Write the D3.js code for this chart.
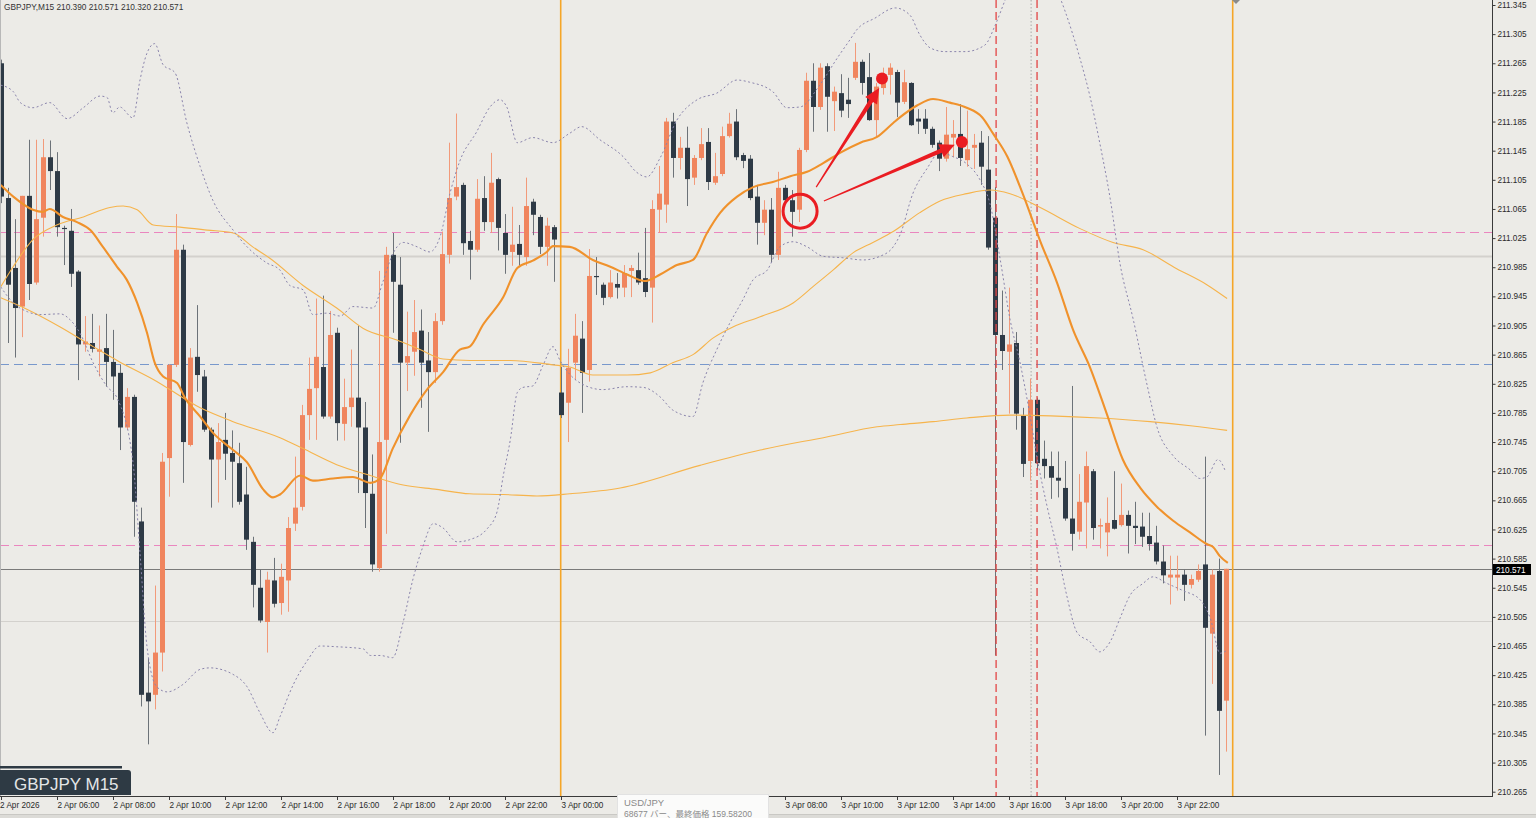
<!DOCTYPE html>
<html><head><meta charset="utf-8">
<script src="https://cdn.jsdelivr.net/npm/d3@7/dist/d3.min.js"></script>
<style>
html,body{margin:0;padding:0;background:#ecebe7;overflow:hidden;}
svg{display:block;}
</style></head><body>
<svg id="c" width="1536" height="818"></svg>
<script>
// ---------------- DATA ----------------
const headerText = "GBPJPY,M15  210.390 210.571 210.320 210.571";
const symbolLabel = "GBPJPY M15";

const opens = [211.265,211.080,210.984,210.931,211.083,210.964,211.053,211.136,211.117,211.039,211.035,210.979,210.879,210.881,210.869,210.874,210.855,210.840,210.765,210.807,
210.636,210.401,210.398,210.456,210.723,210.851,211.009,210.741,210.862,210.835,210.762,210.721,210.748,210.730,210.716,210.673,210.608,210.545,210.498,210.555,
210.524,210.555,210.633,210.656,210.782,210.819,210.848,210.780,210.895,210.770,210.793,210.806,210.765,210.674,210.572,210.748,211.002,210.961,210.854,210.869,
210.898,210.857,210.841,210.911,211.002,211.082,211.098,211.021,211.009,211.080,211.047,211.106,211.032,211.006,211.017,210.999,211.075,211.054,211.013,211.040,
210.813,210.799,210.854,210.887,210.844,210.973,210.961,210.944,210.962,210.957,210.980,210.981,210.970,210.957,211.064,211.071,211.185,211.135,211.149,211.108,
211.135,211.157,211.101,211.113,211.165,211.185,211.139,211.134,211.082,211.046,211.064,211.002,211.094,211.077,211.064,211.146,211.241,211.205,211.261,211.213,
211.224,211.215,211.245,211.267,211.246,211.187,211.231,211.249,211.253,211.212,211.238,211.189,211.189,211.175,211.156,211.134,211.163,211.168,211.132,211.149,
211.156,211.119,211.053,210.892,210.869,210.881,210.781,210.719,210.803,210.722,210.712,210.696,210.682,210.640,210.622,210.662,210.705,210.629,210.621,210.638,
210.631,210.645,210.630,210.629,210.616,210.607,210.581,210.559,210.559,210.563,210.549,210.556,210.577,210.482,210.568,210.390];
const highs = [211.270,211.094,211.051,211.083,211.160,211.160,211.161,211.159,211.143,211.042,211.065,210.981,210.918,210.921,210.905,210.921,210.899,210.851,210.819,210.810,
210.655,210.449,210.548,210.730,210.852,211.058,211.016,210.874,210.933,210.844,210.765,210.771,210.785,210.761,210.744,210.711,210.615,210.570,210.567,210.586,
210.578,210.642,210.725,210.796,210.861,210.942,210.946,210.925,210.902,210.832,210.872,210.905,210.800,210.728,210.980,211.013,211.032,210.999,210.924,210.940,
210.927,210.896,210.922,211.034,211.156,211.196,211.101,211.035,211.106,211.110,211.142,211.108,211.058,211.068,211.043,211.108,211.079,211.057,211.053,211.043,
210.848,210.873,210.921,210.911,211.010,210.999,210.964,210.981,210.977,210.988,210.988,211.005,211.039,211.077,211.124,211.190,211.197,211.164,211.178,211.139,
211.176,211.176,211.142,211.178,211.197,211.202,211.142,211.139,211.098,211.077,211.080,211.116,211.098,211.091,211.149,211.252,211.265,211.265,211.265,211.233,
211.250,211.245,211.293,211.270,211.279,211.238,211.259,211.265,211.256,211.256,211.239,211.202,211.202,211.178,211.159,211.205,211.187,211.209,211.200,211.168,
211.172,211.165,211.095,210.953,210.957,210.896,210.792,210.832,210.806,210.747,210.732,210.732,210.719,210.822,210.701,210.732,210.708,210.640,210.669,210.705,
210.688,210.651,210.663,210.648,210.648,210.630,210.603,210.589,210.589,210.570,210.563,210.577,210.725,210.570,210.585,210.571];
const lows = [211.073,210.881,210.861,210.889,210.940,210.961,211.027,211.091,211.027,210.988,210.958,210.830,210.869,210.868,210.835,210.821,210.803,210.734,210.762,210.615,
210.382,210.330,210.378,210.430,210.670,210.848,210.689,210.739,210.814,210.759,210.655,210.662,210.693,210.655,210.659,210.597,210.518,210.497,210.456,210.518,
210.508,210.512,210.623,210.651,210.748,210.748,210.777,210.777,210.747,210.747,210.766,210.675,210.627,210.567,210.567,210.619,210.895,210.744,210.815,210.836,
210.792,210.759,210.826,210.906,210.990,211.077,211.002,210.968,211.006,211.035,211.032,211.008,210.976,210.987,210.987,210.987,211.029,211.003,210.987,210.965,
210.778,210.745,210.830,210.785,210.828,210.947,210.933,210.942,210.942,210.944,210.944,210.961,210.944,210.909,211.032,211.046,211.108,211.119,211.069,211.098,
211.132,211.091,211.098,211.110,211.163,211.132,211.121,211.077,211.016,211.029,210.992,210.995,211.073,211.027,211.047,211.143,211.171,211.201,211.171,211.172,
211.191,211.190,211.242,211.222,211.186,211.164,211.222,211.222,211.191,211.209,211.179,211.168,211.168,211.149,211.117,211.130,211.136,211.124,211.123,211.120,
211.098,211.009,210.452,210.844,210.784,210.762,210.697,210.692,210.707,210.695,210.667,210.669,210.637,210.596,210.611,210.599,210.611,210.599,210.588,210.625,
210.629,210.592,210.605,210.601,210.596,210.577,210.551,210.522,210.541,210.527,210.544,210.553,210.342,210.413,210.288,210.320];
const closes = [211.082,210.961,210.929,211.083,210.962,211.051,211.136,211.117,211.040,211.038,210.976,210.879,210.883,210.873,210.872,210.855,210.835,210.765,210.807,210.663,
210.398,210.389,210.456,210.718,210.851,211.009,210.745,210.861,210.837,210.762,210.721,210.745,210.729,210.718,210.663,210.611,210.549,210.500,210.556,210.523,
210.560,210.627,210.655,210.782,210.818,210.862,210.780,210.892,210.771,210.793,210.806,210.765,210.675,210.577,210.745,211.002,210.965,210.854,210.863,210.896,
210.854,210.841,210.911,211.003,211.080,211.095,211.018,211.009,211.079,211.047,211.101,211.039,211.002,211.016,211.002,211.069,211.057,211.013,211.042,211.023,
210.782,210.847,210.891,210.840,210.973,210.972,210.943,210.964,210.957,210.977,210.984,210.964,210.951,211.065,211.086,211.185,211.135,211.149,211.106,211.135,
211.154,211.102,211.110,211.165,211.182,211.136,211.131,211.080,211.046,211.064,211.002,211.094,211.077,211.061,211.146,211.241,211.205,211.259,211.219,211.226,
211.200,211.209,211.267,211.238,211.187,211.233,211.249,211.259,211.211,211.239,211.180,211.185,211.175,211.153,211.134,211.167,211.168,211.135,211.147,211.153,
211.123,211.012,210.892,210.870,210.879,210.784,210.715,210.803,210.716,210.712,210.696,210.692,210.640,210.619,210.663,210.712,210.627,210.631,210.634,210.626,
210.645,210.630,210.627,210.615,210.605,210.581,210.562,210.563,210.563,210.549,210.557,210.568,210.490,210.563,210.376,210.571];

// indicator lines: [bar index, price]
const midBand = [[0,211.098],[1.8,211.082],[4.6,211.064],[6,211.061],[7,211.065],[8.9,211.054],[10.9,211.047],[12.8,211.036],[14.6,211.013],[16.6,210.986],[18,210.968],[19.5,210.936],[20.9,210.895],[22,210.854],[23.2,210.835],[25.2,210.826],[26.3,210.806],[28.5,210.780],[30.3,210.758],[33.2,210.734],[35.2,210.717],[37.5,210.680],[38.9,210.669],[39.9,210.673],[42.8,210.699],[44.6,210.692],[47.5,210.695],[50.3,210.697],[52.8,210.689],[54.2,210.695],[56,210.736],[58.5,210.782],[60.9,210.817],[63.2,210.841],[65.6,210.872],[67,210.876],[68.9,210.906],[71.8,210.944],[73.8,210.984],[76,210.994],[78,211.006],[78.9,211.014],[81.3,211.013],[84.6,210.995],[87,210.986],[89.5,210.975],[92,210.966],[94.2,210.975],[96.6,210.988],[98.9,210.995],[100.9,211.032],[102.8,211.060],[105.2,211.082],[107.5,211.095],[110.3,211.102],[112.8,211.110],[115.2,211.116],[117.5,211.128],[119.9,211.142],[122.8,211.156],[125.2,211.164],[127.5,211.183],[128.5,211.191],[130.9,211.207],[133.2,211.216],[135.6,211.211],[138,211.204],[140.2,211.191],[141.8,211.168],[143.8,211.137],[146,211.086],[148.5,211.021],[150.9,210.964],[153.2,210.899],[155.6,210.848],[158,210.784],[160.3,210.721],[162.8,210.682],[165.2,210.656],[167.5,210.637],[169.9,210.621],[172.3,210.605],[173.2,210.601],[174.2,210.588],[175.3,210.579]];
const maMid = [[0,210.958],[1.8,210.986],[4.6,211.023],[8,211.043],[11.8,211.054],[15.6,211.067],[17.5,211.069],[19.5,211.064],[21.8,211.043],[25.6,211.040],[29.5,211.036],[33.2,211.032],[36,211.013],[38.5,210.997],[43.2,210.960],[48,210.929],[51.8,210.901],[56.6,210.885],[59.9,210.872],[63.2,210.859],[67,210.857],[72.8,210.857],[78.9,210.851],[81.3,210.848],[84.6,210.837],[89.5,210.837],[92.8,210.840],[96,210.854],[98.9,210.865],[101.8,210.888],[104.6,210.903],[108.5,210.917],[113.2,210.936],[116,210.958],[118.9,210.981],[121.8,211.005],[124.6,211.019],[127.5,211.034],[131.3,211.060],[134.2,211.076],[138,211.086],[141.3,211.091],[144.2,211.086],[148.5,211.067],[154.2,211.038],[158.9,211.019],[163.2,211.009],[168,210.983],[172.3,210.961],[175.2,210.942]];
const maLong = [[0,210.943],[3.8,210.927],[8.5,210.903],[13.2,210.876],[17,210.855],[21.8,210.831],[28.5,210.792],[33.2,210.773],[39.9,210.751],[43.2,210.736],[48,210.714],[52.8,210.699],[57.5,210.686],[62.3,210.680],[67,210.674],[71.8,210.673],[76.6,210.671],[81.3,210.674],[88.5,210.682],[99.9,210.713],[108.5,210.734],[118,210.752],[125.2,210.766],[128.5,210.769],[133.2,210.773],[138,210.778],[144.2,210.782],[150,210.781],[157,210.778],[164.2,210.773],[170.3,210.767],[175.2,210.761]];
const bandUpper = [[0,211.235],[1.8,211.226],[2.8,211.211],[4.6,211.204],[7,211.211],[9.5,211.189],[11.8,211.204],[14.2,211.220],[15.2,211.218],[16,211.197],[17,211.205],[18.9,211.190],[19.9,211.242],[20.9,211.279],[22,211.292],[23.2,211.263],[24.9,211.252],[26.6,211.183],[28.5,211.123],[30.3,211.077],[33.2,211.036],[35.2,211.013],[38,210.991],[39.9,210.981],[41.3,210.960],[43.2,210.954],[44.6,210.920],[46.6,210.922],[48.5,210.918],[50.3,210.931],[53.2,210.929],[54.6,210.965],[56,211.003],[57.5,211.019],[59.5,211.013],[61.3,211.006],[62.8,211.028],[64.2,211.087],[65.6,211.131],[68,211.171],[69.9,211.205],[71.3,211.215],[72.3,211.205],[73.8,211.156],[76,211.163],[78.9,211.156],[81.3,211.169],[83,211.178],[85.6,211.160],[88.9,211.137],[90.9,211.115],[92.3,211.109],[94.2,211.135],[96.6,211.187],[99.5,211.215],[102.3,211.224],[105.2,211.242],[107,211.239],[110.3,211.226],[112.3,211.204],[114.2,211.205],[117,211.235],[119.5,211.272],[121.3,211.297],[122.3,211.311],[124.9,211.327],[127.8,211.341],[129.9,211.331],[131.3,211.304],[132.8,211.286],[134.9,211.281],[137.8,211.281],[140.6,211.290],[142.1,211.318],[143.5,211.352],[145.6,211.400],[148.5,211.421],[150.6,211.373],[152,211.338],[154.2,211.271],[155.6,211.220],[157,211.156],[158.5,211.079],[159.9,210.990],[161.8,210.913],[163.8,210.822],[165.2,210.765],[167.5,210.726],[169.9,210.707],[171.3,210.695],[172.3,210.697],[173.9,210.721],[175,210.704]];
const bandLower = [[0,210.958],[1.8,210.936],[3.8,210.924],[5.6,210.920],[8.5,210.921],[9.9,210.913],[11.3,210.895],[13.2,210.854],[15.2,210.821],[16.6,210.806],[18.9,210.717],[19.9,210.593],[20.9,210.464],[22.3,210.409],[23.8,210.402],[26,210.412],[28.5,210.433],[29.9,210.435],[33.2,210.426],[35.2,210.409],[37,210.374],[38.9,210.346],[39.9,210.368],[41.8,210.412],[43.8,210.445],[45.6,210.465],[48,210.464],[51.8,210.461],[52.8,210.452],[54.2,210.452],[56,210.449],[57.5,210.498],[58.9,210.557],[60.3,210.601],[61.8,210.633],[63.2,210.627],[65.2,210.608],[67,210.611],[69.5,210.626],[70.9,210.649],[71.8,210.699],[72.8,210.748],[73.8,210.813],[74.6,210.820],[76,210.822],[77.5,210.851],[78.9,210.876],[79.9,210.857],[82.8,210.826],[86,210.817],[89.5,210.821],[91.8,210.820],[94.2,210.807],[96,210.789],[98.9,210.780],[100.3,210.826],[102.3,210.872],[104.2,210.909],[106,210.940],[107.5,210.968],[109.5,210.981],[111.3,211.013],[113.2,211.020],[115.2,211.013],[117.5,211.000],[120.3,210.998],[123.2,210.995],[125.6,211.000],[127.5,211.013],[128.5,211.030],[130.3,211.086],[132.3,211.120],[134.2,211.143],[136,211.137],[138,211.127],[139.9,211.105],[141.3,211.073],[142.8,210.995],[144.2,210.913],[145.6,210.855],[147,210.784],[148,210.726],[149.5,210.656],[150.9,210.599],[152.3,210.534],[153.8,210.483],[155.6,210.471],[157,210.457],[158.5,210.471],[159.9,210.503],[161.3,210.534],[163.2,210.551],[164.6,210.560],[166.6,210.551],[168.9,210.541],[171.3,210.529],[172.8,210.503],[174.2,210.455],[175,210.458]];

const pinkLevels = [211.033, 210.603];
const blueLevels = [210.852];
const roundLevels = [211.000, 210.500];
const bidPrice = 210.571;
const daySeparatorBars = [80, 176];
const redMarkerBars = [142.2, 148.05];
const dottedMarkerBars = [147.2];

const priceTicks = [210.265,210.305,210.345,210.385,210.425,210.465,210.505,210.545,210.585,210.625,210.665,210.705,210.745,210.785,210.825,210.865,210.905,210.945,210.985,211.025,211.065,211.105,211.145,211.185,211.225,211.265,211.305,211.345];
const timeTickBars = [0,8,16,24,32,40,48,56,64,72,80,88,96,104,112,120,128,136,144,152,160,168];
const timeTickLabels = ["2 Apr 2026","2 Apr 06:00","2 Apr 08:00","2 Apr 10:00","2 Apr 12:00","2 Apr 14:00","2 Apr 16:00","2 Apr 18:00","2 Apr 20:00","2 Apr 22:00","3 Apr 00:00","3 Apr 02:00","3 Apr 04:00","3 Apr 06:00","3 Apr 08:00","3 Apr 10:00","3 Apr 12:00","3 Apr 14:00","3 Apr 16:00","3 Apr 18:00","3 Apr 20:00","3 Apr 22:00"];
// labels hidden under the tooltip in the screenshot
const hiddenTickBars = [88, 96, 104];

// annotations: [bar, price]
const circleMark = [114.2, 211.062];
const arrowStarts = [[116.5, 211.095],[117.6, 211.076]];
const arrowTips = [[125.5, 211.231],[136.3, 211.153]];
const dotMarks = [[125.9, 211.244],[137.3, 211.157]];

const tooltipLines = ["USD/JPY", "68677 バー、最終価格 159.58200"];

// ---------------- DRAW ----------------
const W = 1536, H = 818;
const plotRight = 1492, plotBottom = 796;
const svg = d3.select('#c');
const x = d3.scaleLinear().domain([0, 176]).range([0.7, 0.7 + 7 * 176]);
const y = d3.scaleLinear().domain([210.265, 211.345]).range([791.7, 5]);
const font = "'Liberation Sans', Arial, sans-serif";

svg.append('rect').attr('width', W).attr('height', H).attr('fill', '#ecebe7');
const defs = svg.append('defs');
defs.append('clipPath').attr('id', 'plotClip').append('rect')
  .attr('x', 0).attr('y', 0).attr('width', plotRight).attr('height', plotBottom);

const plot = svg.append('g').attr('clip-path', 'url(#plotClip)');

// horizontal levels
plot.selectAll('.round').data(roundLevels).join('line')
  .attr('x1', 0).attr('x2', plotRight)
  .attr('y1', d => Math.round(y(d)) + 0.5).attr('y2', d => Math.round(y(d)) + 0.5)
  .attr('stroke', '#d3d1cd').attr('stroke-width', (d, i) => i === 0 ? 2 : 1.2);
plot.selectAll('.pink').data(pinkLevels).join('line')
  .attr('x1', 0).attr('x2', plotRight)
  .attr('y1', d => Math.round(y(d)) + 0.5).attr('y2', d => Math.round(y(d)) + 0.5)
  .attr('stroke', '#ea86bf').attr('stroke-width', 1.1).attr('stroke-dasharray', '9,5');
plot.selectAll('.blue').data(blueLevels).join('line')
  .attr('x1', 0).attr('x2', plotRight)
  .attr('y1', d => Math.round(y(d)) + 0.5).attr('y2', d => Math.round(y(d)) + 0.5)
  .attr('stroke', '#7898cc').attr('stroke-width', 1.1).attr('stroke-dasharray', '9,5');
plot.append('line')
  .attr('x1', 0).attr('x2', plotRight)
  .attr('y1', Math.round(y(bidPrice)) + 0.5).attr('y2', Math.round(y(bidPrice)) + 0.5)
  .attr('stroke', '#7a7a7a').attr('stroke-width', 1);

// vertical markers
plot.selectAll('.daysep').data(daySeparatorBars).join('line')
  .attr('x1', d => x(d)).attr('x2', d => x(d)).attr('y1', 0).attr('y2', plotBottom)
  .attr('stroke', '#f5a628').attr('stroke-width', 1.6);
plot.selectAll('.dotm').data(dottedMarkerBars).join('line')
  .attr('x1', d => x(d)).attr('x2', d => x(d)).attr('y1', 0).attr('y2', plotBottom)
  .attr('stroke', '#a8a8a8').attr('stroke-width', 1).attr('stroke-dasharray', '1.5,2');

// candles
const bars = d3.range(opens.length).map(i => ({i, o: opens[i], h: highs[i], l: lows[i], c: closes[i]}));
const upCol = '#f0855e', dnCol = '#2e3a46';
const cg = plot.append('g');
cg.selectAll('.wick').data(bars).join('line')
  .attr('x1', d => Math.round(x(d.i)) + 0.5).attr('x2', d => Math.round(x(d.i)) + 0.5)
  .attr('y1', d => y(d.h)).attr('y2', d => y(d.l))
  .attr('stroke', d => d.c > d.o ? '#f29a7a' : '#6c7278').attr('stroke-width', 1);
cg.selectAll('.body').data(bars).join('rect')
  .attr('x', d => Math.round(x(d.i)) - 2)
  .attr('width', 5)
  .attr('y', d => y(Math.max(d.o, d.c)))
  .attr('height', d => Math.max(1.2, Math.abs(y(d.o) - y(d.c))))
  .attr('fill', d => d.c > d.o ? upCol : dnCol);

// red dashed markers (over candles)
plot.selectAll('.redm').data(redMarkerBars).join('line')
  .attr('x1', d => x(d)).attr('x2', d => x(d)).attr('y1', 0).attr('y2', plotBottom)
  .attr('stroke', '#e24545').attr('stroke-width', 1.3).attr('stroke-dasharray', '8,4');

// indicators
const line = d3.line().x(d => x(d[0])).y(d => y(d[1])).curve(d3.curveMonotoneX);
plot.append('path').attr('d', line(maLong)).attr('fill', 'none').attr('stroke', '#f6b44c').attr('stroke-width', 1.1);
plot.append('path').attr('d', line(maMid)).attr('fill', 'none').attr('stroke', '#f6b44c').attr('stroke-width', 1.1);
plot.append('path').attr('d', line(bandUpper)).attr('fill', 'none').attr('stroke', '#8a84ac').attr('stroke-width', 1).attr('stroke-dasharray', '2,2.5');
plot.append('path').attr('d', line(bandLower)).attr('fill', 'none').attr('stroke', '#8a84ac').attr('stroke-width', 1).attr('stroke-dasharray', '2,2.5');
plot.append('path').attr('d', line(midBand)).attr('fill', 'none').attr('stroke', '#f0922c').attr('stroke-width', 2.1);

// annotations
const red = '#ea1c22';
plot.append('circle').attr('cx', x(circleMark[0])).attr('cy', y(circleMark[1])).attr('r', 17)
  .attr('fill', 'none').attr('stroke', red).attr('stroke-width', 3);
arrowStarts.forEach((s, k) => {
  const x0 = x(s[0]), y0 = y(s[1]), x1 = x(arrowTips[k][0]), y1 = y(arrowTips[k][1]);
  const dx = x1 - x0, dy = y1 - y0, len = Math.hypot(dx, dy);
  const ux = dx / len, uy = dy / len, nx = -uy, ny = ux;
  const headL = 15, headW = 7;
  const bx = x1 - ux * headL, by = y1 - uy * headL;
  const pts = [
    [x0 + nx * 0.6, y0 + ny * 0.6], [bx + nx * 2.2, by + ny * 2.2],
    [bx + nx * headW, by + ny * headW], [x1, y1],
    [bx - nx * headW, by - ny * headW], [bx - nx * 2.2, by - ny * 2.2],
    [x0 - nx * 0.6, y0 - ny * 0.6]
  ];
  plot.append('polygon').attr('points', pts.map(p => p.join(',')).join(' ')).attr('fill', red);
});
plot.selectAll('.dot').data(dotMarks).join('circle')
  .attr('cx', d => x(d[0])).attr('cy', d => y(d[1])).attr('r', 6).attr('fill', red);

// top marker
svg.append('polygon').attr('points', '1232,0 1240,0 1236,4').attr('fill', '#8a8a8a');

// frame
svg.append('line').attr('x1', 0.5).attr('x2', 0.5).attr('y1', 0).attr('y2', plotBottom).attr('stroke', '#b8b8b8');
svg.append('line').attr('x1', plotRight + 0.5).attr('x2', plotRight + 0.5).attr('y1', 0).attr('y2', plotBottom + 1).attr('stroke', '#3a3a3a');
svg.append('line').attr('x1', 0).attr('x2', plotRight + 1).attr('y1', plotBottom + 0.5).attr('y2', plotBottom + 0.5).attr('stroke', '#3a3a3a');

// right price axis
const yAxis = d3.axisRight(y).tickValues(priceTicks).tickFormat(d3.format('.3f')).tickSize(3).tickPadding(2);
const ya = svg.append('g').attr('transform', `translate(${plotRight + 0.5},0)`).call(yAxis);
ya.select('.domain').remove();
ya.selectAll('line').attr('stroke', '#3a3a3a');
ya.selectAll('text').attr('font-family', font).attr('font-size', 8.2).attr('fill', '#2a2a2a');

// bid label
svg.append('rect').attr('x', plotRight + 1).attr('y', Math.round(y(bidPrice)) - 5).attr('width', 38).attr('height', 11).attr('fill', '#000');
svg.append('text').attr('x', plotRight + 4).attr('y', Math.round(y(bidPrice)) + 3.5)
  .attr('font-family', font).attr('font-size', 8.2).attr('fill', '#fff').text(bidPrice.toFixed(3));

// bottom time axis
const xa = svg.append('g');
xa.selectAll('line').data(timeTickBars).join('line')
  .attr('x1', d => Math.round(x(d)) + 0.5).attr('x2', d => Math.round(x(d)) + 0.5)
  .attr('y1', plotBottom + 1).attr('y2', plotBottom + 4).attr('stroke', '#3a3a3a');
const visibleTicks = timeTickBars.map((b, i) => ({b, label: timeTickLabels[i], first: i === 0}))
  .filter(d => !hiddenTickBars.includes(d.b));
xa.selectAll('text').data(visibleTicks).join('text')
  .attr('x', d => d.first ? 0 : Math.round(x(d.b)) + 0.5)
  .attr('y', 807.5)
  .attr('font-family', font).attr('font-size', 8.2).attr('fill', '#2a2a2a')
  .text(d => d.label);

// bottom strip
svg.append('rect').attr('x', 0).attr('y', 814).attr('width', W).attr('height', 4).attr('fill', '#dcdbd7');
svg.append('line').attr('x1', 0).attr('x2', W).attr('y1', 814.5).attr('y2', 814.5).attr('stroke', '#c9c8c4');

// tooltip
svg.append('rect').attr('x', 617.5).attr('y', 794.5).attr('width', 151).attr('height', 30)
  .attr('fill', '#fbfbfa').attr('stroke', '#e2e2e2');
svg.append('text').attr('x', 624).attr('y', 805.5).attr('font-family', "'Liberation Sans', 'Noto Sans CJK JP', sans-serif")
  .attr('font-size', 9.5).attr('fill', '#8a8a8a').text(tooltipLines[0]);
svg.append('text').attr('x', 624).attr('y', 816.5).attr('font-family', "'Liberation Sans', 'Noto Sans CJK JP', sans-serif")
  .attr('font-size', 8.5).attr('fill', '#8a8a8a').text(tooltipLines[1]);

// header
svg.append('text').attr('x', 4).attr('y', 10).attr('font-family', font).attr('font-size', 8.3)
  .attr('fill', '#333').text(headerText);

// symbol tag
svg.append('rect').attr('x', 0).attr('y', 766).attr('width', 122).attr('height', 2.5).attr('fill', '#2e3a44');
svg.append('path').attr('d', 'M0,770 H128 Q131,770 131,773 V795 H0 Z').attr('fill', '#2e3a44');
svg.append('text').attr('x', 14).attr('y', 789.5).attr('font-family', font).attr('font-size', 17)
  .attr('fill', '#e4e6e8').text(symbolLabel);
</script>
</body></html>
